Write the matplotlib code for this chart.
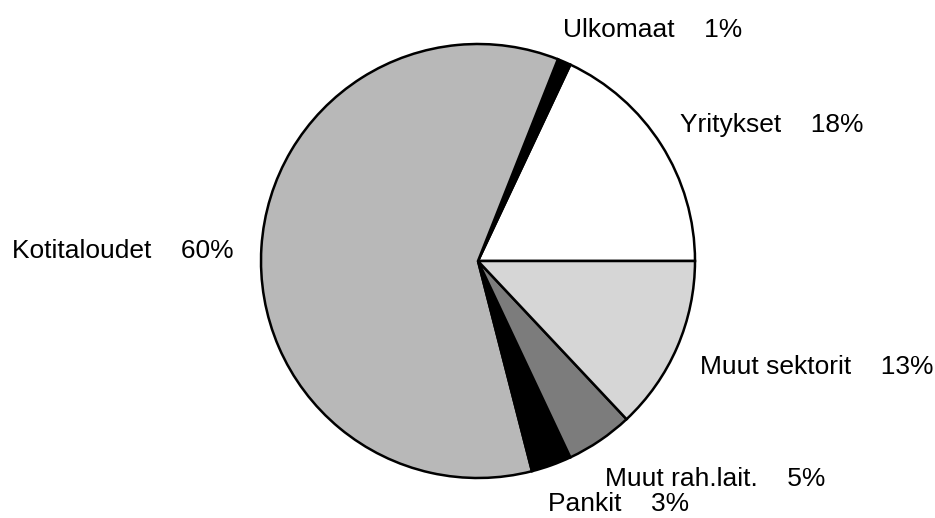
import matplotlib
matplotlib.use("Agg")
import matplotlib.pyplot as plt

# Sector shares (%), counter-clockwise from 3 o'clock
labels = ["Yritykset", "Ulkomaat", "Kotitaloudet", "Pankit", "Muut rah.lait.", "Muut sektorit"]
shares = [18, 1, 60, 3, 5, 13]
colors = ["#ffffff", "#000000", "#b8b8b8", "#000000", "#7c7c7c", "#d6d6d6"]

# label anchor points in pixel coords (left edge, baseline)
label_pos = [(680, 132), (563, 37), (12, 258), (548, 511), (605, 486), (700, 374)]

plt.rcParams["font.family"] = ["Liberation Sans", "DejaVu Sans"]

fig = plt.figure(figsize=(9.35, 5.18), dpi=100)
ax = fig.add_axes([0, 0, 1, 1])

ax.pie(shares, colors=colors, startangle=0, counterclock=True,
       center=(478, 518 - 261), radius=217,
       wedgeprops=dict(edgecolor="black", linewidth=1.8))

ax.set_xlim(0, 935)
ax.set_ylim(0, 518)
ax.set_aspect("equal")
ax.axis("off")

for lab, val, (px, py) in zip(labels, shares, label_pos):
    ax.text(px, 518 - py, f"{lab}    {val}%", fontsize=19,
            ha="left", va="baseline")

fig.savefig("out.png", dpi=100)
